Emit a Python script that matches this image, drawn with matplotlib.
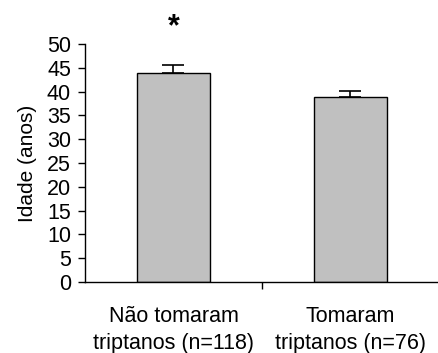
import matplotlib
matplotlib.use("Agg")
import matplotlib.pyplot as plt

categories = ["Não tomaram\ntriptanos (n=118)", "Tomaram\ntriptanos (n=76)"]
idade_media = [43.8, 38.8]
erro_padrao = [1.8, 1.4]
yticks = list(range(0, 51, 5))

plt.rcParams["font.family"] = ["Liberation Sans", "DejaVu Sans"]
plt.rcParams["font.size"] = 15.5

fig = plt.figure(figsize=(4.39, 3.53), dpi=100)
ax = fig.add_axes([0.1936, 0.2011, 0.8064, 0.6743])

x = range(len(categories))
ax.bar(x, idade_media, width=0.41, color="#c0c0c0", edgecolor="black", lw=1.0, zorder=2)
ax.errorbar(x, idade_media, yerr=[[0, 0], erro_padrao], fmt="none", ecolor="black",
            elinewidth=1.2, capsize=8, capthick=1.2, zorder=3)

# significance marker above the first group
ax.text(0, 53.6, "*", ha="center", va="center", fontsize=22, fontweight="bold",
        clip_on=False)

ax.set_xlim(-0.5, 1.5)
ax.set_ylim(0, 50)
ax.set_yticks(yticks)
ax.set_xticks(list(x))
ax.set_xticklabels(categories, linespacing=1.4)
ax.tick_params(axis="x", length=0, pad=17)
ax.set_xticks([0.5], minor=True)
ax.tick_params(axis="x", which="minor", length=5, width=1.0, direction="out")
ax.tick_params(axis="y", length=5, width=1.0, direction="out", pad=5)
ax.set_ylabel("Idade (anos)", fontsize=15, labelpad=7)

for s in ("top", "right"):
    ax.spines[s].set_visible(False)
for s in ("left", "bottom"):
    ax.spines[s].set_linewidth(1.0)

fig.savefig("out.png", dpi=100)
